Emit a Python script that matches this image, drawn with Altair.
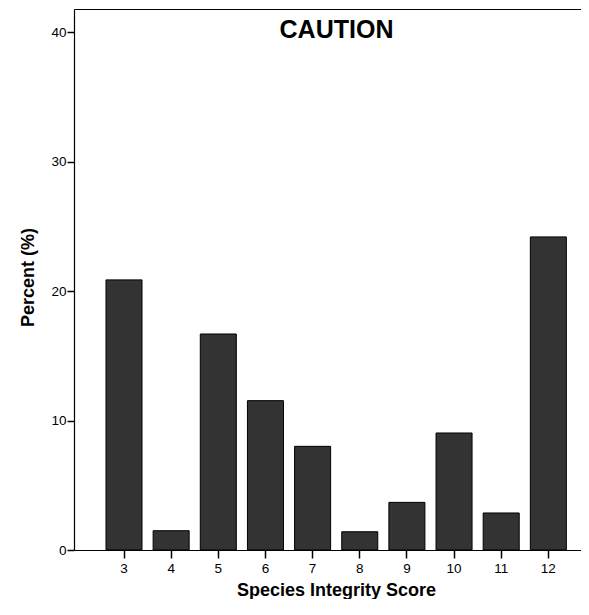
import altair as alt
import pandas as pd

scores = ["3", "4", "5", "6", "7", "8", "9", "10", "11", "12"]
percents = [20.87, 1.49, 16.69, 11.54, 8.01, 1.41, 3.68, 9.04, 2.86, 24.19]
y_ticks = [0, 10, 20, 30, 40]

df = pd.DataFrame({"score": scores, "pct": percents})

FONT = "Liberation Sans"
W, H = 507, 541

xscale = alt.Scale(domain=scores, paddingInner=0.236, paddingOuter=0.4945, align=0.686, round=False)
yscale = alt.Scale(domain=[0, 41.8], nice=False, zero=True)

bars = alt.Chart(df).mark_bar(color="#333333", stroke="#000000", strokeWidth=1).encode(
    x=alt.X("score:N", scale=xscale, sort=scores,
            axis=alt.Axis(title="Species Integrity Score", labelAngle=0, tickSize=8,
                          labelPadding=3, labelFontSize=13.5, labelFont=FONT, labelColor="#000",
                          domainColor="#000", tickColor="#000", domainWidth=1.2, tickWidth=1.5,
                          titleFont=FONT, titleFontSize=18, titleFontWeight="bold", titleColor="#000",
                          titleX=262, titleY=45, titleAlign="center", titleBaseline="alphabetic")),
    y=alt.Y("pct:Q", scale=yscale,
            axis=alt.Axis(title="Percent (%)", values=y_ticks, grid=False, tickSize=7,
                          labelPadding=1, labelFontSize=13.5, labelFont=FONT, labelColor="#000",
                          domainColor="#000", tickColor="#000", domainWidth=1.2, tickWidth=1.5,
                          titleFont=FONT, titleFontSize=18, titleFontWeight="bold", titleColor="#000",
                          titleAngle=270, titleAlign="center", titleBaseline="alphabetic",
                          titleX=-41, titleY=268)),
)

top = alt.Chart(df).mark_point(opacity=0).encode(
    x=alt.X("score:N", scale=xscale, sort=scores,
            axis=alt.Axis(orient="top", labels=False, ticks=False, title=None,
                          domainColor="#000", domainWidth=1.2)),
)

chart = alt.layer(bars, top).resolve_axis(x="independent").properties(
    width=W, height=H,
    title=alt.TitleParams("CAUTION", fontSize=25, font=FONT, fontWeight="bold",
                          anchor="middle", frame="group", offset=-34, dx=9, color="#000"),
    autosize=alt.AutoSizeParams(type="none"),
    padding={"left": 66, "top": 1, "right": 0, "bottom": 49},
).configure_view(stroke=None)

chart.save("out.html", embed_options={"renderer": "svg", "actions": False})
